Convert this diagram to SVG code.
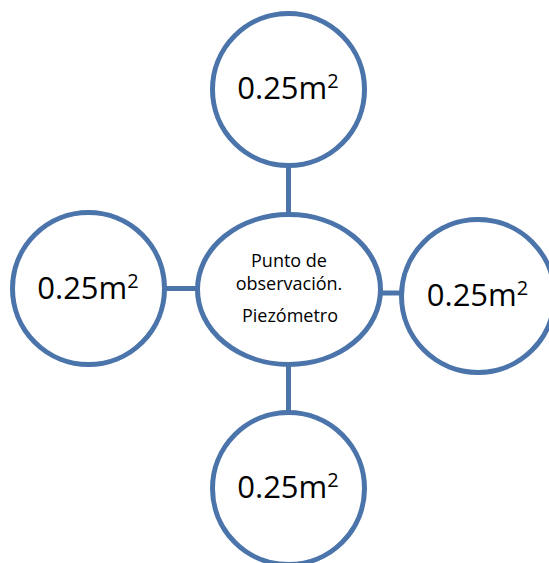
<svg xmlns="http://www.w3.org/2000/svg" width="549" height="563" viewBox="0 0 549 563">
<style>
.node{fill:#ffffff;stroke:#4a74aa;stroke-width:5}
.conn{stroke:#4a74aa;stroke-width:5;fill:none}
.big{font-family:"Open Sans","Liberation Sans",sans-serif;font-size:31px;fill:#000;text-anchor:middle}
.sup{font-size:20px}
.small{font-family:"Open Sans","Liberation Sans",sans-serif;font-size:18px;fill:#000;text-anchor:middle}
</style>
<rect width="549" height="563" fill="#ffffff"/>
<g id="connectors">
<line class="conn" x1="288.5" y1="164" x2="288.5" y2="216"/>
<line class="conn" x1="288.5" y1="363" x2="288.5" y2="414"/>
<line class="conn" x1="163" y1="288.5" x2="199" y2="288.5"/>
<line class="conn" x1="379" y1="293" x2="403" y2="293"/>
</g>
<g id="center">
<ellipse class="node" cx="289" cy="289.5" rx="91.5" ry="75"/>
<text class="small" x="289" y="267">Punto de</text>
<text class="small" x="289" y="290">observación.</text>
<text class="small" x="290" y="322">Piezómetro</text>
</g>
<g id="top">
<circle class="node" cx="288.5" cy="89.5" r="76"/>
<text class="big" x="288" y="99">0.25m<tspan class="sup" dy="-11">2</tspan></text>
</g>
<g id="left">
<circle class="node" cx="88.5" cy="288.5" r="76"/>
<text class="big" x="88" y="299">0.25m<tspan class="sup" dy="-11">2</tspan></text>
</g>
<g id="right">
<circle class="node" cx="478" cy="296" r="76.5"/>
<text class="big" x="477.5" y="306">0.25m<tspan class="sup" dy="-11">2</tspan></text>
</g>
<g id="bottom">
<circle class="node" cx="288.5" cy="488.5" r="76"/>
<text class="big" x="288" y="498">0.25m<tspan class="sup" dy="-11">2</tspan></text>
</g>
</svg>
